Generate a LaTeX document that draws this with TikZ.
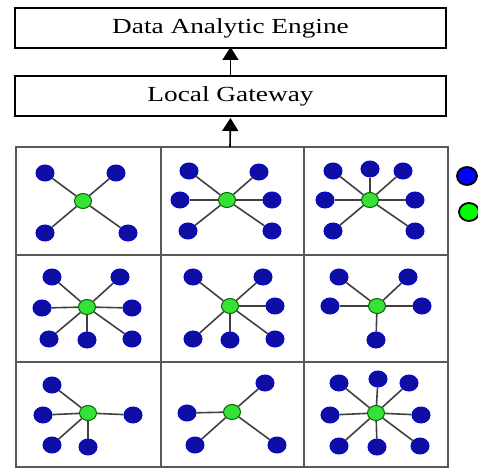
\documentclass[tikz,border=0pt]{standalone}
\usepackage{fontspec}
\setmainfont{Liberation Serif}
\usetikzlibrary{shapes.geometric,arrows.meta,calc}
\definecolor{nodeblue}{RGB}{14,14,165}
\definecolor{hubgreen}{RGB}{55,225,55}
\newcommand{\widetext}[1]{\scalebox{1.27}[1]{#1}}
\newcommand{\hubstar}[3]{%
  \node[hub] (#1) at #2 {};
  \foreach \dx/\dy [count=\k] in {#3} {
    \node[leaf] (#1-\k) at ($(#1)+(\dx,\dy)$) {};
    \draw[spoke] (#1) -- (#1-\k);
  }
}
\begin{document}
\begin{tikzpicture}
[x=1pt, y=-1pt,
hub/.style={ellipse, fill=hubgreen, draw=black!60!green, line width=1pt, minimum width=17pt, minimum height=15pt, inner sep=0pt},
leaf/.style={ellipse, fill=nodeblue, draw=nodeblue!60!blue, line width=1pt, minimum width=18pt, minimum height=16pt, inner sep=0pt},
spoke/.style={draw=black!75, line width=1.6pt},
tierbox/.style={draw, line width=2pt, minimum width=431pt, minimum height=40pt, font=\fontsize{21.5}{24}\selectfont},
cellline/.style={draw=black!65, line width=2.2pt},
uparrow/.style={-{Triangle[length=13pt,width=16pt]}, line width=1.6pt}
]
\clip (0,0) rectangle (478,468);
%\tikzset{every node/.style={draw=red}}

\node[tierbox] (engine) at (230.5,28) {\widetext{Data Analytic Engine}};
\node[tierbox] (gateway) at (230.5,96) {\widetext{Local Gateway}};

% sensor field
\draw[cellline] (16,147) rectangle (448,467);
\draw[cellline] (161,147) -- (161,467);
\draw[cellline] (304,147) -- (304,467);
\draw[cellline] (16,255) -- (448,255);
\draw[cellline] (16,362) -- (448,362);
\coordinate (field) at (230,147);

\draw[uparrow] (gateway.north) -- ([yshift=2pt]engine.south);
\draw[uparrow] (field) -- ([yshift=-1pt]gateway.south);

\hubstar{h11}{(83,201)}{-38/-28, 33/-28, -38/32, 45/32}
\hubstar{h12}{(227,200)}{-38/-29, -47/0, -39/31, 32/-28, 45/0, 45/31}
\hubstar{h13}{(370,200)}{-37/-29, 0/-31, 33/-29, -45/0, 45/0, -37/31, 45/31}
\hubstar{h21}{(87,307)}{-35/-30, 33/-30, -45/1, 45/1, -38/32, 0/33, 45/32}
\hubstar{h22}{(230,306)}{-37/-29, 33/-29, 45/0, -37/33, 0/34, 45/33}
\hubstar{h23}{(377,306)}{-38/-29, 31/-29, -47/0, 45/0, -1/34}
\hubstar{h31}{(88,413)}{-36/-28, -45/2, 45/2, -36/32, 0/34}
\hubstar{h32}{(232,412)}{-45/1, -37/33, 33/-29, 45/33}
\hubstar{h33}{(376,413)}{-37/-30, 2/-34, 33/-30, -46/2, 45/2, -37/33, 1/34, 44/33}

% legend
\node[ellipse, fill=blue, draw=black, line width=1.8pt, minimum width=20pt, minimum height=18pt] (legblue) at (467,176) {};
\node[ellipse, fill=green, draw=black, line width=1.8pt, minimum width=20pt, minimum height=18pt] (leggreen) at (469,212) {};
\end{tikzpicture}
\end{document}
